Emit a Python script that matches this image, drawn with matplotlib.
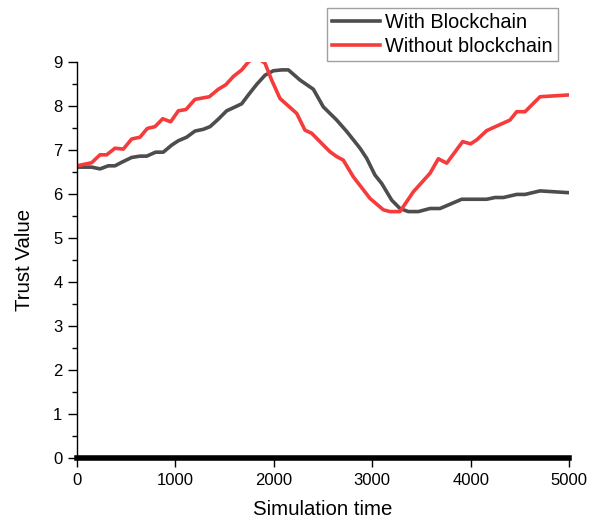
import matplotlib
matplotlib.use('Agg')
import matplotlib.pyplot as plt
from matplotlib.ticker import MultipleLocator

plt.rcParams.update({
    'font.family': ['Liberation Sans', 'DejaVu Sans'],
    'font.size': 12,
})

# With blockchain (dark grey)
with_x = [0, 150, 234, 318, 386, 454, 556, 640, 708, 799, 877, 962, 1030, 1114,
          1199, 1284, 1352, 1436, 1521, 1589, 1674, 1741, 1826, 1911, 1995, 2080,
          2148, 2266, 2402, 2503, 2639, 2741, 2876, 2944, 3028, 3096, 3198, 3282,
          3367, 3469, 3587, 3689, 3773, 3909, 4163, 4248, 4333, 4468, 4553, 4705,
          4993]
with_y = [6.61, 6.61, 6.57, 6.64, 6.64, 6.72, 6.83, 6.86, 6.86, 6.95, 6.95, 7.11,
          7.21, 7.29, 7.43, 7.47, 7.53, 7.70, 7.89, 7.96, 8.05, 8.25, 8.49, 8.70,
          8.80, 8.82, 8.82, 8.59, 8.38, 7.98, 7.68, 7.42, 7.04, 6.81, 6.43, 6.24,
          5.86, 5.67, 5.60, 5.60, 5.67, 5.67, 5.75, 5.88, 5.88, 5.92, 5.92, 5.99,
          5.99, 6.07, 6.03]

# Without blockchain (red)
without_x = [0, 149, 234, 302, 386, 471, 556, 640, 715, 793, 871, 952, 1030, 1108,
             1199, 1345, 1436, 1511, 1589, 1674, 1741, 1820, 1911, 1978, 2063, 2233,
             2317, 2385, 2486, 2571, 2639, 2706, 2808, 2977, 3113, 3181, 3282, 3418,
             3587, 3672, 3757, 3919, 4000, 4062, 4163, 4400, 4468, 4553, 4705, 4993]
without_y = [6.64, 6.71, 6.89, 6.89, 7.04, 7.02, 7.25, 7.29, 7.49, 7.53, 7.71, 7.64,
             7.89, 7.92, 8.15, 8.21, 8.38, 8.48, 8.67, 8.82, 9.0, 9.12, 8.97, 8.59,
             8.17, 7.83, 7.45, 7.38, 7.15, 6.96, 6.85, 6.77, 6.39, 5.90, 5.64, 5.60,
             5.60, 6.05, 6.47, 6.80, 6.70, 7.19, 7.14, 7.23, 7.44, 7.68, 7.87, 7.87,
             8.21, 8.25]

fig = plt.figure(figsize=(5.99, 5.23), dpi=100)
ax = fig.add_axes([0.1285, 0.1243, 0.8215, 0.7572])

ax.plot(with_x, with_y, color='#4d4d4d', linewidth=2.6, label='With Blockchain')
ax.plot(without_x, without_y, color='#f53b3b', linewidth=2.6, label='Without blockchain')

ax.set_xlim(0, 5000)
ax.set_ylim(0, 9)
ax.xaxis.set_major_locator(MultipleLocator(1000))
ax.yaxis.set_major_locator(MultipleLocator(1))
ax.yaxis.set_minor_locator(MultipleLocator(0.5))
ax.tick_params(which='major', direction='out', length=6.5, width=1, labelsize=12, pad=4)
ax.tick_params(which='minor', direction='out', length=3.6, width=1)

ax.spines['top'].set_visible(False)
ax.spines['right'].set_visible(False)
ax.spines['bottom'].set_linewidth(4)
ax.spines['left'].set_linewidth(1)

ax.set_xlabel('Simulation time', fontsize=14.7, labelpad=9)
ax.set_ylabel('Trust Value', fontsize=14.7, labelpad=14)

leg = ax.legend(loc='upper left', bbox_to_anchor=(327 / 599, 1 - 8 / 523),
                bbox_transform=fig.transFigure, fontsize=14.3,
                frameon=True, fancybox=False, borderpad=0.25, labelspacing=0.25,
                handlelength=2.4, handletextpad=0.28, borderaxespad=0)
leg.get_frame().set_edgecolor('#888888')
leg.get_frame().set_linewidth(1)

plt.savefig('out.png', dpi=100)
